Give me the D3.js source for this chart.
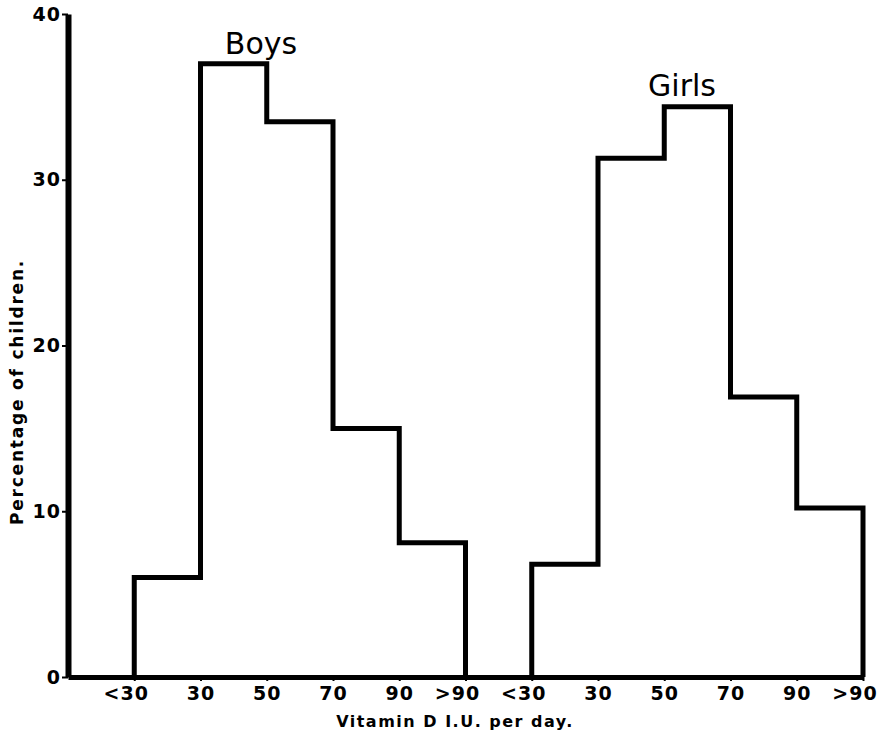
<!DOCTYPE html>
<html>
<head>
<meta charset="utf-8">
<script src="https://cdn.jsdelivr.net/npm/d3@7"></script>
<style>
  html, body { margin: 0; padding: 0; background: #fff; }
  svg { display: block; }
</style>
</head>
<body>
<svg id="chart" width="883" height="735"></svg>
<script>
// ---- data ----
const categories = ["<30", "30-50", "50-70", "70-90", ">90"];
const edgeLabels = ["<30", "30", "50", "70", "90", ">90"];
const boys  = [6.0, 37.0, 33.5, 15.0, 8.1];
const girls = [6.8, 31.3, 34.4, 16.9, 10.2];
const yTicks = [0, 10, 20, 30, 40];
const groups = [
  { name: "Boys",  values: boys,  start: 1 },
  { name: "Girls", values: girls, start: 7 }
];

// ---- layout ----
const svg = d3.select("#chart");
const x = d3.scaleLinear().domain([0, 12]).range([68, 863]);
const y = d3.scaleLinear().domain([0, 40]).range([677, 14]);
const ink = "#000";
const font = "'DejaVu Sans', sans-serif";

// histogram outlines
const line = d3.line().x(d => x(d[0])).y(d => y(d[1]));
groups.forEach(g => {
  const pts = [[g.start, 0]];
  g.values.forEach((v, i) => {
    pts.push([g.start + i, v]);
    pts.push([g.start + i + 1, v]);
  });
  pts.push([g.start + g.values.length, 0]);
  svg.append("path")
    .attr("d", line(pts))
    .attr("fill", "none")
    .attr("stroke", ink)
    .attr("stroke-width", 5)
    .attr("stroke-linejoin", "miter");
});

// x axis
const tickVals = [];
const tickText = [];
groups.forEach(g => {
  edgeLabels.forEach((l, i) => { tickVals.push(g.start + i); tickText.push(l); });
});
const xAxis = svg.append("g")
  .attr("transform", `translate(0,${y(0)})`)
  .call(d3.axisBottom(x)
    .tickValues(tickVals)
    .tickFormat((d, i) => tickText[i])
    .tickSize(4)
    .tickSizeOuter(0)
    .tickPadding(6));
xAxis.select(".domain").attr("stroke", ink).attr("stroke-width", 5);
xAxis.selectAll(".tick line").attr("stroke", ink).attr("stroke-width", 2);
xAxis.selectAll(".tick text")
  .attr("font-family", font)
  .attr("font-weight", "bold")
  .attr("font-size", 19)
  .attr("letter-spacing", 1)
  .attr("fill", ink)
  .each(function() {
    const t = d3.select(this);
    const s = t.text();
    if (s[0] === "<" || s[0] === ">") {
      const full = this.getComputedTextLength();
      t.text(s.slice(1));
      const rest = this.getComputedTextLength();
      t.text(s);
      t.attr("dx", -(full - rest) / 2);
    }
  });

// y axis
const yAxis = svg.append("g")
  .attr("transform", `translate(${x(0)},0)`)
  .call(d3.axisLeft(y)
    .tickValues(yTicks)
    .tickSize(6)
    .tickSizeOuter(0)
    .tickPadding(1));
yAxis.select(".domain").attr("stroke", ink).attr("stroke-width", 6);
yAxis.selectAll(".tick line").attr("stroke", ink).attr("stroke-width", 2);
yAxis.selectAll(".tick text")
  .attr("font-family", font)
  .attr("font-weight", "bold")
  .attr("font-size", 19)
  .attr("letter-spacing", 1)
  .attr("fill", ink);

// group labels
svg.append("text")
  .attr("x", 261).attr("y", 54)
  .attr("text-anchor", "middle")
  .attr("font-family", font)
  .attr("font-size", 30)
  .attr("fill", ink)
  .text(groups[0].name);
svg.append("text")
  .attr("x", 682).attr("y", 96)
  .attr("text-anchor", "middle")
  .attr("font-family", font)
  .attr("font-size", 30)
  .attr("fill", ink)
  .text(groups[1].name);

// axis titles
svg.append("text")
  .attr("x", 455).attr("y", 727)
  .attr("text-anchor", "middle")
  .attr("font-family", font)
  .attr("font-weight", "bold")
  .attr("font-size", 16)
  .attr("letter-spacing", 1.5)
  .attr("fill", ink)
  .text("Vitamin D  I.U. per day.");

svg.append("text")
  .attr("transform", "translate(23,392) rotate(-90)")
  .attr("text-anchor", "middle")
  .attr("font-family", font)
  .attr("font-weight", "bold")
  .attr("font-size", 17)
  .attr("letter-spacing", 1.8)
  .attr("fill", ink)
  .text("Percentage of children.");
</script>
</body>
</html>
